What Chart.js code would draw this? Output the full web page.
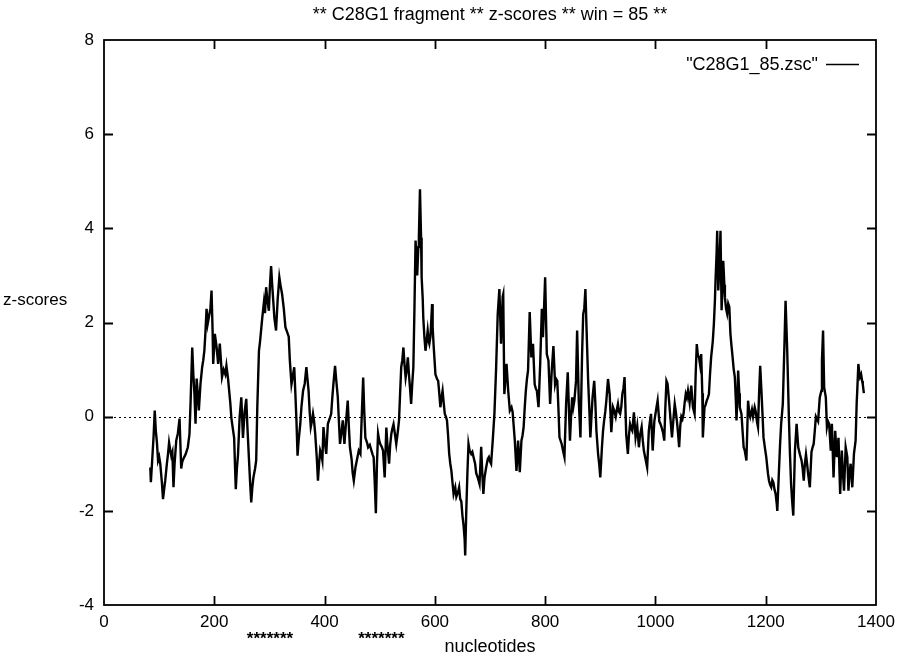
<!DOCTYPE html>
<html>
<head>
<meta charset="utf-8">
<script src="https://cdn.jsdelivr.net/npm/chart.js@4"></script>
<style>
html,body{margin:0;padding:0;background:#fff;}
#wrap{width:898px;height:657px;position:relative;}
</style>
</head>
<body>
<div id="wrap"><canvas id="c" width="898" height="657"></canvas></div>
<script>
const titleText = '** C28G1 fragment ** z-scores ** win = 85 **';
const xLabel = 'nucleotides';
const yLabel = 'z-scores';
const legendText = '"C28G1_85.zsc"';
const xTicks = [0, 200, 400, 600, 800, 1000, 1200, 1400];
const yTicks = [-4, -2, 0, 2, 4, 6, 8];
const markerText = '*******';
const markerCenters = [301, 503];

const nucleotides = [
84,85,87,90,92,94,96,98,100,102,105,107,109,111,114,116,118,120,122,124,126,128,131,134,137,140,142,145,148,152,155,157,160,162,164,166,168,170,172,175,178,180,182,184,186,188,190,193,195,197,198,200,201,204,207,210,212,214,217,220,222,225,227,229,231,233,236,238,239,241,243,246,249,252,255,258,260,263,265,267,269,271,274,276,278,281,283,285,287,290,292,294,296,299,301,303,305,307,309,312,315,318,320,323,326,329,332,335,337,340,343,345,347,349,351,353,356,358,361,364,367,369,371,373,375,377,379,381,383,386,388,390,392,394,396,398,400,403,406,409,412,414,416,419,421,424,426,428,431,433,436,439,442,444,446,449,451,453,456,459,462,465,468,470,472,474,477,479,482,485,487,489,491,493,495,497,499,501,504,506,509,512,514,517,519,521,523,525,528,530,533,535,537,539,541,543,545,547,549,551,553,555,557,559,561,563,565,567,568,570,571,573,575,576,578,579,581,583,585,587,589,590,592,595,596,598,600,601,604,606,608,610,612,614,616,618,620,622,624,626,628,630,632,634,637,639,642,644,646,648,650,652,654,655,657,659,661,663,666,668,670,673,675,678,681,684,686,688,690,693,696,698,700,702,705,708,711,714,717,720,723,724,726,728,730,733,736,739,741,743,745,748,751,754,757,759,761,763,765,767,769,772,775,778,781,783,785,788,791,794,796,798,800,803,806,809,812,815,818,820,822,824,826,830,832,835,838,841,843,845,847,849,851,853,856,858,861,864,867,869,871,873,875,878,880,882,884,886,889,891,893,896,898,900,903,905,907,909,911,914,917,920,923,926,928,930,932,934,936,938,940,942,944,947,950,952,954,956,958,961,964,967,970,972,975,977,979,982,985,988,990,992,995,998,1001,1004,1007,1009,1011,1014,1016,1018,1020,1022,1025,1027,1030,1033,1035,1037,1039,1041,1043,1045,1047,1049,1051,1053,1055,1057,1059,1062,1065,1068,1071,1073,1075,1077,1079,1081,1083,1085,1086,1088,1089,1091,1093,1095,1097,1099,1101,1104,1106,1108,1109,1111,1112,1114,1116,1118,1120,1122,1123,1125,1126,1128,1130,1132,1134,1136,1138,1140,1142,1144,1146,1147,1149,1150,1152,1153,1156,1158,1160,1162,1165,1168,1170,1172,1175,1177,1180,1182,1184,1186,1188,1190,1192,1194,1196,1199,1201,1204,1206,1208,1210,1212,1214,1216,1218,1220,1221,1224,1226,1228,1231,1234,1236,1239,1242,1244,1246,1248,1250,1253,1256,1259,1262,1265,1267,1269,1271,1273,1275,1277,1280,1283,1285,1287,1289,1291,1293,1295,1298,1301,1302,1304,1306,1309,1311,1313,1315,1318,1320,1323,1326,1329,1332,1335,1338,1340,1342,1345,1348,1350,1352,1354,1357,1360,1363,1365,1366,1368,1370,1371,1373,1375,1376,1378
];
const zscores = [
-1.08,-1.39,-1.0,-0.4,0.13,-0.3,-0.55,-0.93,-0.85,-1.0,-1.4,-1.75,-1.55,-1.36,-1.0,-0.8,-0.55,-0.7,-0.83,-0.75,-1.5,-1.0,-0.51,-0.35,-0.04,-1.1,-0.95,-0.87,-0.8,-0.65,-0.37,0.3,1.47,0.9,0.49,-0.15,0.81,0.5,0.13,0.7,1.05,1.2,1.4,1.8,2.29,1.97,2.1,2.3,2.68,1.8,1.12,1.5,1.76,1.5,1.12,1.55,1.2,0.84,1.0,0.9,1.08,0.8,0.55,0.3,-0.03,-0.2,-0.45,-1.2,-1.54,-1.1,-0.81,0.0,0.41,-0.45,0.1,0.38,-0.2,-0.93,-1.4,-1.82,-1.5,-1.29,-1.1,-0.93,0.2,1.4,1.6,1.85,2.1,2.43,2.2,2.75,2.5,2.25,2.8,3.2,2.8,2.45,2.1,1.83,2.5,2.96,2.8,2.6,2.3,1.9,1.8,1.7,1.2,0.69,0.9,1.05,0.5,-0.08,-0.83,-0.5,-0.15,0.2,0.55,0.7,1.05,0.8,0.55,0.1,-0.22,-0.1,0.06,-0.1,-0.36,-0.9,-1.36,-1.0,-0.72,-0.8,-0.93,-0.22,-0.5,-0.79,-0.15,-0.05,0.06,0.4,0.69,1.08,0.8,0.41,-0.1,-0.58,-0.3,-0.08,-0.58,-0.1,0.34,-0.2,-0.65,-0.9,-1.2,-1.36,-1.08,-0.9,-0.72,-0.79,0.2,0.83,0.1,-0.45,-0.55,-0.65,-0.6,-0.72,-0.8,-0.86,-1.4,-2.05,-1.0,-0.36,-0.5,-0.58,-0.65,-0.72,-1.29,-0.23,-0.6,-1.0,-0.6,-0.37,-0.25,-0.16,-0.4,-0.58,-0.3,-0.08,0.5,1.05,1.2,1.47,1.1,0.83,1.0,1.26,0.9,0.6,0.27,0.7,1.05,2.3,3.74,3.3,3.0,3.6,3.8,4.83,3.8,2.97,2.5,2.1,1.7,1.4,1.6,1.83,1.6,1.55,1.7,2.39,1.9,1.47,1.1,0.9,0.8,0.76,0.5,0.2,0.4,0.55,0.3,0.06,0.0,-0.08,-0.4,-0.79,-1.0,-1.15,-1.4,-1.64,-1.5,-1.7,-1.6,-1.5,-1.75,-1.8,-2.1,-2.3,-2.6,-2.95,-2.0,-1.2,-0.58,-0.72,-0.79,-0.75,-0.85,-1.0,-1.2,-1.3,-1.43,-0.64,-1.2,-1.64,-1.3,-1.08,-0.9,-0.86,-0.95,-1.0,-0.5,0.06,1.0,2.18,2.71,1.55,2.55,2.6,0.48,0.8,1.12,0.55,0.13,0.2,0.1,-0.2,-0.51,-1.15,-0.51,-1.18,-0.51,-0.4,-0.22,0.2,0.55,0.8,0.98,2.22,1.26,1.55,0.69,0.6,0.55,0.2,1.12,2.29,1.69,2.3,2.96,1.33,1.19,0.27,0.98,1.5,0.69,0.8,0.76,0.2,-0.44,-0.58,-0.7,-0.86,0.27,0.94,0.2,-0.51,0.0,0.41,0.2,0.34,0.76,1.83,0.34,-0.44,1.33,2.18,2.3,2.71,1.9,0.76,0.2,-0.44,0.0,0.41,0.76,0.3,-0.3,-0.79,-1.0,-1.29,-0.65,-0.3,-0.08,0.1,0.34,0.8,0.48,-0.33,0.2,0.1,0.0,0.15,0.27,0.1,0.06,0.2,0.48,0.6,0.84,-0.37,-0.79,-0.4,-0.16,-0.25,-0.3,0.09,-0.44,-0.2,-0.65,-0.4,-0.22,-0.5,-0.72,-0.9,-1.08,-0.3,-0.1,0.06,-0.72,-0.1,0.13,0.34,-0.1,-0.15,-0.22,-0.35,-0.51,0.2,0.76,0.7,0.3,0.0,-0.44,0.0,0.27,0.1,-0.1,-0.35,-0.65,-0.2,0.0,-0.05,0.06,0.3,0.48,0.4,0.55,0.3,0.66,0.2,0.06,0.9,1.54,1.3,1.26,1.1,1.33,0.5,-0.44,0.0,0.2,0.25,0.34,0.4,0.48,0.9,1.26,1.6,1.97,2.5,2.89,3.5,3.95,2.68,3.2,3.95,2.26,2.9,3.31,2.8,2.54,2.3,2.19,2.4,2.33,1.76,1.5,1.26,1.0,0.84,0.3,-0.08,0.5,0.98,0.5,0.2,0.06,-0.3,-0.65,-0.72,-0.93,0.34,0.1,0.0,0.15,0.0,0.2,0.1,-0.1,-0.22,0.5,1.08,0.6,0.1,-0.44,-0.7,-0.86,-1.2,-1.36,-1.45,-1.5,-1.35,-1.4,-1.55,-1.64,-1.85,-2.0,-1.15,-0.6,-0.15,0.27,1.55,2.46,1.4,0.0,-0.8,-1.43,-1.8,-2.1,-0.72,-0.15,-0.65,-0.8,-0.93,-1.1,-1.36,-1.0,-0.8,-1.0,-1.22,-1.5,-0.75,-0.65,-0.58,-0.3,0.0,-0.05,-0.1,0.41,0.55,1.2,1.83,0.62,0.41,-0.22,-0.1,-0.15,-0.72,-0.15,-1.29,-0.3,-0.86,-0.45,-1.64,-0.72,-1.2,-1.57,-0.65,-0.86,-1.57,-1.2,-1.0,-1.5,-0.79,-0.51,0.3,0.55,1.12,0.9,0.84,0.9,0.75,0.69,0.5
];

const FONT = '"Liberation Sans", Arial, Helvetica, sans-serif';
const points = nucleotides.map((n, i) => ({x: n, y: zscores[i]}));

const decor = {
  id: 'decor',
  beforeDatasetsDraw(chart) {
    const {ctx, chartArea: a, scales: {y}} = chart;
    ctx.save();
    ctx.strokeStyle = '#000';
    ctx.lineWidth = 1.2;
    ctx.setLineDash([2, 3]);
    const y0 = Math.round(y.getPixelForValue(0)) + 0.5;
    ctx.beginPath();
    ctx.moveTo(a.left, y0);
    ctx.lineTo(a.right, y0);
    ctx.stroke();
    ctx.restore();
  },
  afterDraw(chart) {
    const {ctx, chartArea: a, scales: {x, y}} = chart;
    ctx.save();
    ctx.strokeStyle = '#000';
    ctx.fillStyle = '#000';
    ctx.lineWidth = 1.8;
    ctx.setLineDash([]);
    ctx.strokeRect(a.left, a.top, a.right - a.left, a.bottom - a.top);
    const tl = 9;
    ctx.beginPath();
    xTicks.forEach(v => {
      if (v === xTicks[0] || v === xTicks[xTicks.length - 1]) return;
      const px = Math.round(x.getPixelForValue(v)) + 0.5;
      ctx.moveTo(px, a.bottom); ctx.lineTo(px, a.bottom - tl);
      ctx.moveTo(px, a.top); ctx.lineTo(px, a.top + tl);
    });
    yTicks.forEach(v => {
      if (v === yTicks[0] || v === yTicks[yTicks.length - 1]) return;
      const py = Math.round(y.getPixelForValue(v)) + 0.5;
      ctx.moveTo(a.left, py); ctx.lineTo(a.left + tl, py);
      ctx.moveTo(a.right, py); ctx.lineTo(a.right - tl, py);
    });
    ctx.stroke();

    ctx.font = '18px ' + FONT;
    ctx.textAlign = 'center';
    ctx.textBaseline = 'middle';
    ctx.fillText(titleText, (a.left + a.right) / 2, 15);
    ctx.fillText(xLabel, (a.left + a.right) / 2, 647);
    ctx.font = '17px ' + FONT;
    ctx.textAlign = 'left';
    ctx.fillText(yLabel, 3, 300);

    ctx.textAlign = 'center';
    ctx.font = 'bold 17px ' + FONT;
    markerCenters.forEach(c => {
      ctx.fillText(markerText, x.getPixelForValue(c), 639);
    });

    ctx.font = '18px ' + FONT;
    ctx.textAlign = 'right';
    ctx.fillText(legendText, 818, 65);
    ctx.lineWidth = 1.5;
    ctx.beginPath();
    ctx.moveTo(826, 64.5);
    ctx.lineTo(859, 64.5);
    ctx.stroke();
    ctx.restore();
  }
};

new Chart(document.getElementById('c'), {
  type: 'line',
  data: {
    datasets: [{
      data: points,
      borderColor: '#000',
      borderWidth: 2.4,
      pointRadius: 0,
      tension: 0,
      fill: false
    }]
  },
  options: {
    responsive: false,
    animation: false,
    layout: {padding: {top: 40, right: 22, left: 0, bottom: 0}},
    plugins: {legend: {display: false}, title: {display: false}, tooltip: {enabled: false}},
    scales: {
      x: {
        type: 'linear', min: 0, max: 1400,
        afterFit(s) { s.height = 52; s.paddingLeft = 0; s.paddingRight = 0; },
        afterBuildTicks(s) { s.ticks = xTicks.map(v => ({value: v})); },
        grid: {display: false, drawTicks: false},
        border: {display: false},
        ticks: {color: '#000', padding: 7, font: {family: FONT, size: 17}, maxRotation: 0, autoSkip: false,
                callback: v => String(v)}
      },
      y: {
        type: 'linear', min: -4, max: 8,
        afterFit(s) { s.width = 104; s.paddingTop = 0; s.paddingBottom = 0; },
        afterBuildTicks(s) { s.ticks = yTicks.map(v => ({value: v})); },
        grid: {display: false, drawTicks: false},
        border: {display: false},
        ticks: {color: '#000', padding: 10, font: {family: FONT, size: 17}, autoSkip: false,
                callback: v => String(v)}
      }
    }
  },
  plugins: [decor]
});
</script>
</body>
</html>
